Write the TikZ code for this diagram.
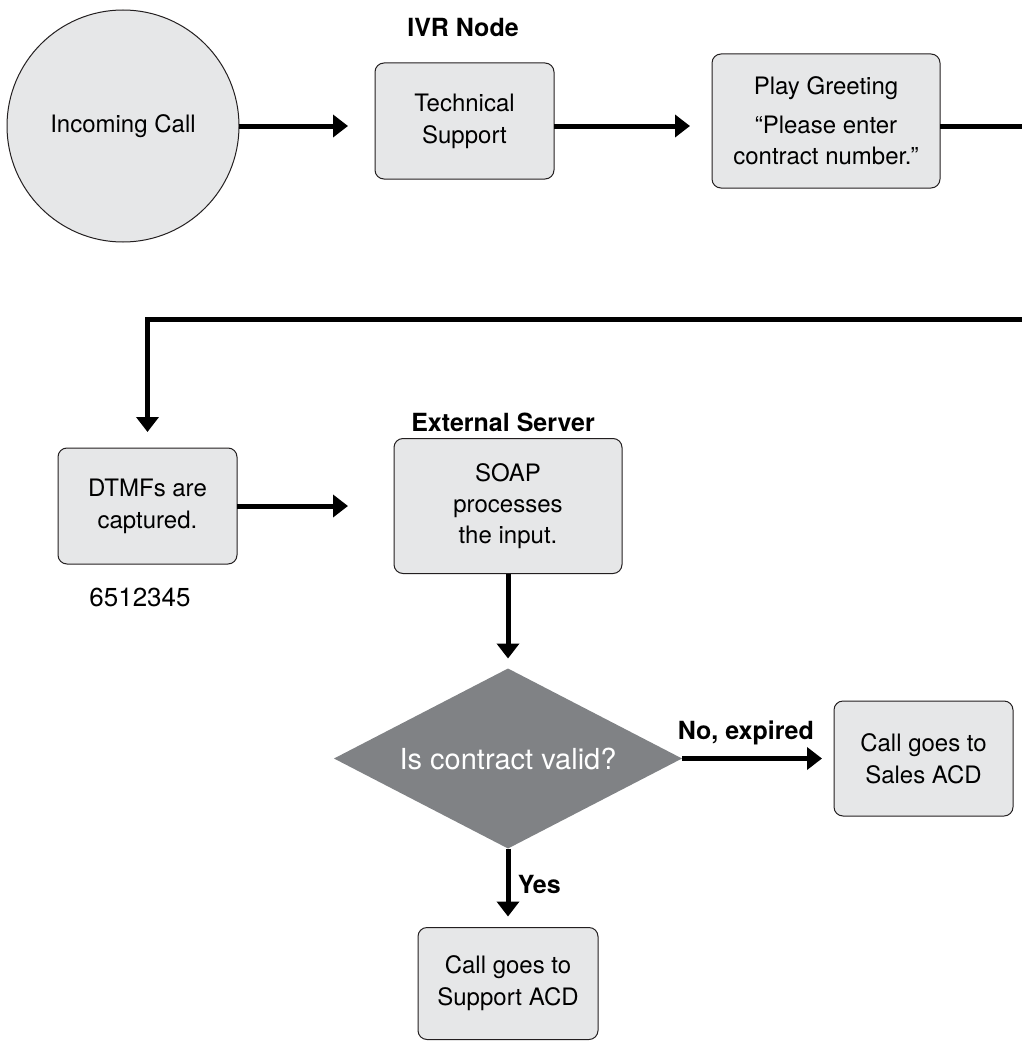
\documentclass[tikz,border=0pt]{standalone}
\usepackage{fontspec}
\setmainfont{TeX Gyre Heros}
\usepackage{tikz}
\usetikzlibrary{shapes.geometric, arrows.meta, positioning}
\definecolor{boxgray}{HTML}{E6E7E8}
\definecolor{decgray}{HTML}{808285}
\definecolor{inkdark}{HTML}{231F20}

\begin{document}
\begin{tikzpicture}[
        x=1pt, y=-1pt,
        node distance = 80pt and 150pt,
        box/.style = {draw=inkdark, fill=boxgray, rectangle, rounded corners=9pt, align=center, line width=1pt, inner sep=0pt, outer sep=0pt, font=\fontsize{24}{32}\selectfont},
        stepbox/.style = {box, minimum width=179pt, minimum height=116pt},
        widebox/.style = {box, minimum width=228pt, minimum height=135pt},
        startcircle/.style = {circle, draw=inkdark, fill=boxgray, line width=1pt, minimum size=232pt, inner sep=0pt, outer sep=0pt, font=\fontsize{24}{32}\selectfont},
        decision/.style = {diamond, fill=decgray, minimum width=348pt, minimum height=180pt, aspect=1.93, inner sep=0pt, outer sep=0pt, text=white, font=\fontsize{29}{35}\selectfont},
        heading/.style = {font=\fontsize{25}{30}\selectfont\bfseries},
        arrow/.style = {draw=black, line width=5pt, -{Triangle[length=15pt, width=22pt]}}
    ]

        \useasboundingbox (0,0) rectangle (1022,1041);
        \clip (0,0) rectangle (1022,1041);

        % Incoming call
        \node (call) [startcircle] at (123,126) {Incoming Call};

        % IVR node
        \node (tech) [stepbox] at (464.5,121) {Technical\\Support};
        \node (ivr) [heading] at (463,28) {IVR Node};
        \node (greet) [widebox, minimum height=134pt, right=158pt of tech] {Play Greeting\\[7pt]“Please enter\\[-1pt]contract number.”};

        % Caller input
        \node (dtmf) [stepbox] at (147.5,506) {DTMFs are\\captured.};
        \node (digits) [font=\fontsize{26}{30}\selectfont] at (140,597) {6512345};

        % External server
        \node (soap) [widebox, font=\fontsize{24}{31}\selectfont, right=157pt of dtmf] {SOAP\\processes\\the input.};
        \node (server) [heading] at (503,422) {External Server};

        % Contract check
        \node (decide) [decision, below=95pt of soap] {Is contract valid?};
        \node (sales) [stepbox, minimum height=115pt, right=152pt of decide] {Call goes to\\Sales ACD};
        \node (support) [stepbox, minimum width=180pt, minimum height=112pt, below=79pt of decide] {Call goes to\\Support ACD};

        % Route around the page edge
        \coordinate (rimtop) at (1040,126);
        \coordinate (rimlow) at (1040,319);

        % Arrows
        \draw [arrow, shorten >=27pt] (call.east) -- (call.east -| tech.west);
        \draw [arrow, shorten >=22pt] (tech.east |- call.east) -- (call.east -| greet.west);
        \draw [arrow, shorten >=16pt] (greet.east |- call.east) -- (rimtop) -- (rimlow) -| (dtmf.north);
        \draw [arrow, shorten >=46pt] (dtmf.east) -- (dtmf.east -| soap.west);
        \draw [arrow, shorten >=10pt] (soap.south) -- (decide.north);
        \draw [arrow, shorten >=12pt] (decide.east) -- node[heading, pos=0.42, above=8pt] {No, expired} (sales.west);
        \draw [arrow, shorten >=11pt] (decide.south) -- node[heading, pos=0.45, right=4pt] {Yes} (support.north);

\end{tikzpicture}
\end{document}
